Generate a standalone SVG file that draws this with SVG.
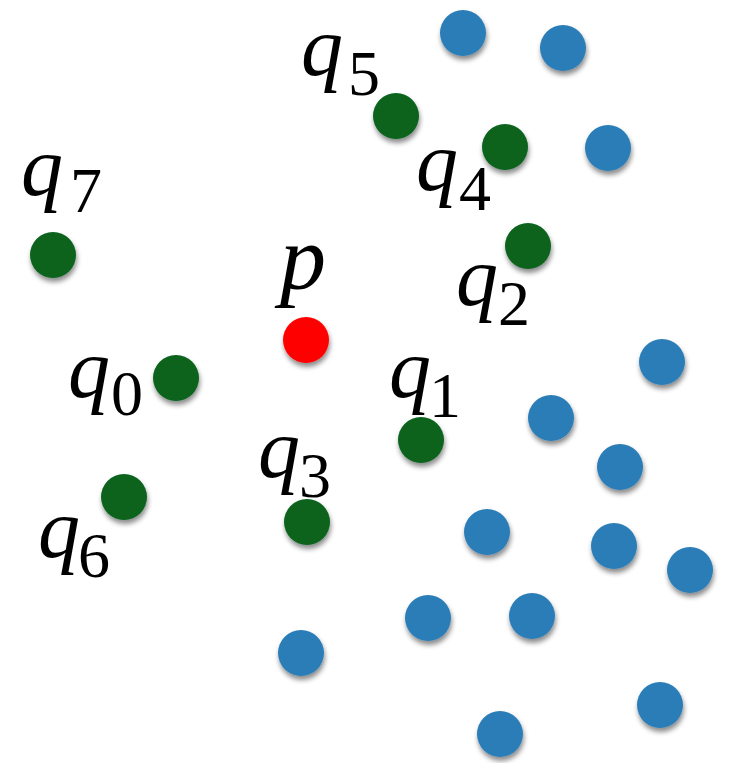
<svg xmlns="http://www.w3.org/2000/svg" width="730" height="763" viewBox="0 0 730 763">
<defs>
<filter id="sh" x="-50%" y="-50%" width="200%" height="200%">
<feDropShadow dx="1" dy="4" stdDeviation="2.5" flood-color="#000" flood-opacity="0.45"/>
</filter>
</defs>
<style>
.b{fill:#2c7db7;filter:url(#sh)}
.g{fill:#08621f;filter:url(#sh)}
.r{fill:#ff0000;filter:url(#sh)}
.m{font-family:"Liberation Serif","DejaVu Serif",serif;font-style:italic;font-size:84px;fill:#000}
.s{font-family:"Liberation Serif","DejaVu Serif",serif;font-style:normal;font-size:64px;fill:#000}
</style>
<rect width="730" height="763" fill="#fff"/>
<g id="blue-points">
<circle class="b" cx="463" cy="33" r="23"/>
<circle class="b" cx="563" cy="48" r="23"/>
<circle class="b" cx="608" cy="148" r="23"/>
<circle class="b" cx="662" cy="362" r="23"/>
<circle class="b" cx="551" cy="418" r="23"/>
<circle class="b" cx="620" cy="467" r="23"/>
<circle class="b" cx="487" cy="532" r="23"/>
<circle class="b" cx="614" cy="546" r="23"/>
<circle class="b" cx="690" cy="570" r="23"/>
<circle class="b" cx="428" cy="618" r="23"/>
<circle class="b" cx="532" cy="616" r="23"/>
<circle class="b" cx="301" cy="653" r="23"/>
<circle class="b" cx="660" cy="705" r="23"/>
<circle class="b" cx="500" cy="734" r="23"/>
</g>
<g id="p">
<circle class="r" cx="306" cy="340" r="23"/>
<text class="m" x="280" y="289" style="font-size:92px">p</text>
</g>
<g id="q0">
<circle class="g" cx="176" cy="378" r="23"/>
<text class="m" x="68" y="397">q</text><text class="s" x="111" y="415">0</text>
</g>
<g id="q1">
<circle class="g" cx="421" cy="440" r="23"/>
<text class="m" x="389" y="397">q</text><text class="s" x="429" y="417">1</text>
</g>
<g id="q2">
<circle class="g" cx="528" cy="246" r="23"/>
<text class="m" x="456" y="305">q</text><text class="s" x="498" y="325">2</text>
</g>
<g id="q3">
<circle class="g" cx="307" cy="522" r="23"/>
<text class="m" x="258" y="477">q</text><text class="s" x="299" y="497">3</text>
</g>
<g id="q4">
<circle class="g" cx="505" cy="147" r="23"/>
<text class="m" x="416" y="190">q</text><text class="s" x="459" y="210">4</text>
</g>
<g id="q5">
<circle class="g" cx="396" cy="116" r="23"/>
<text class="m" x="301" y="75">q</text><text class="s" x="348" y="95">5</text>
</g>
<g id="q6">
<circle class="g" cx="124" cy="497" r="23"/>
<text class="m" x="38" y="557">q</text><text class="s" x="78" y="577">6</text>
</g>
<g id="q7">
<circle class="g" cx="53" cy="255" r="23"/>
<text class="m" x="21" y="195">q</text><text class="s" x="70" y="212">7</text>
</g>
</svg>
